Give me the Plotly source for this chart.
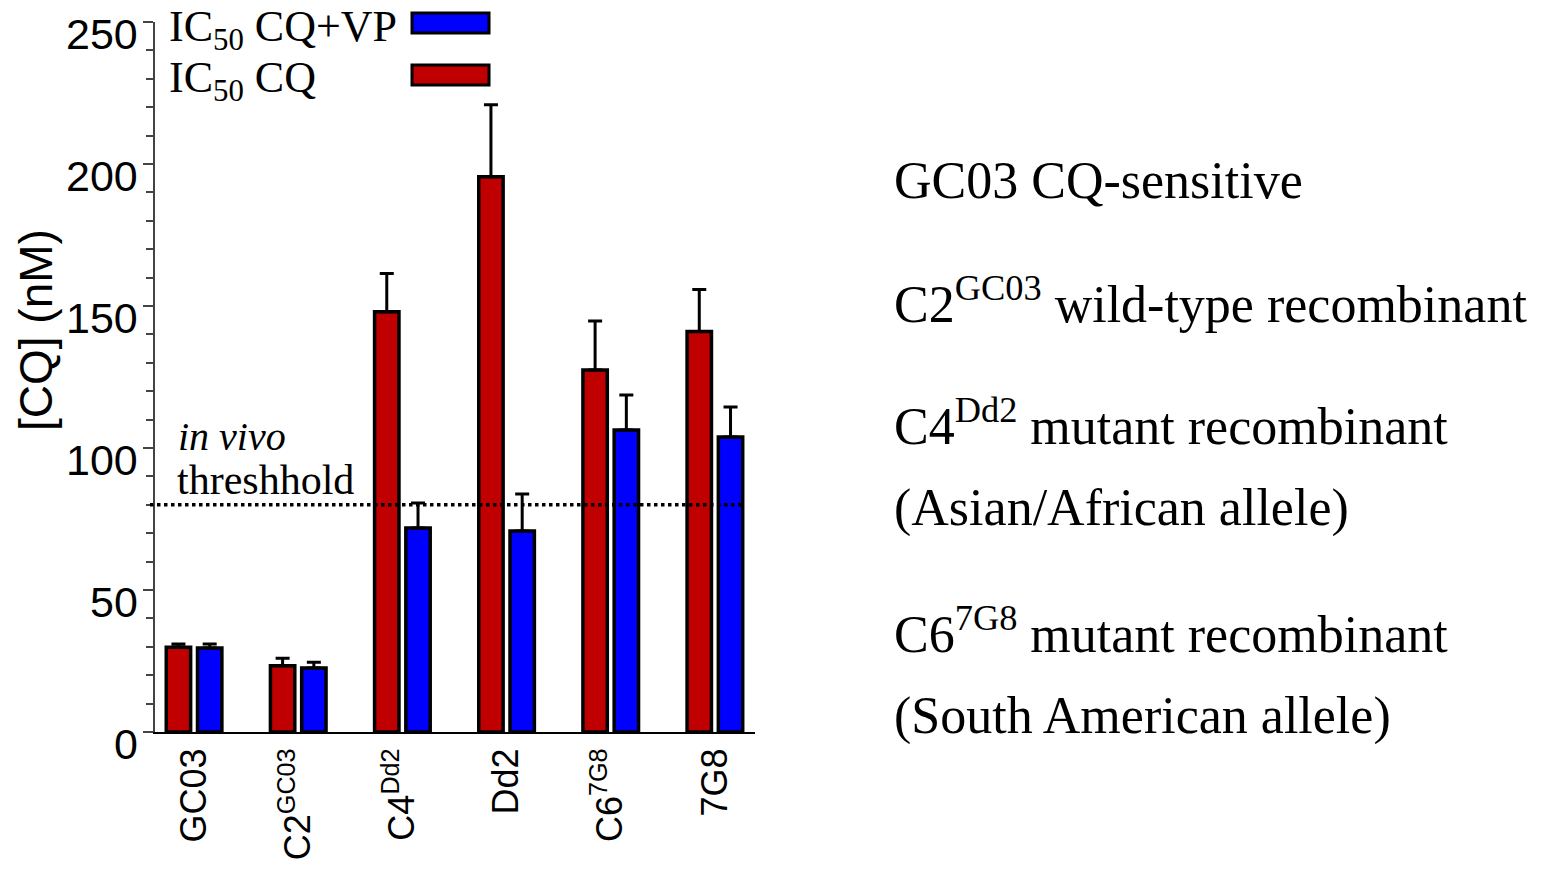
import plotly.graph_objects as go

# ---- data ----
categories = ["GC03", "C2GC03", "C4Dd2", "Dd2", "C67G8", "7G8"]
tick_labels = ["GC03", "C2<sup>GC03</sup>", "C4<sup>Dd2</sup>", "Dd2", "C6<sup>7G8</sup>", "7G8"]
ic50_cq = [29.8, 23.3, 148.0, 195.5, 127.5, 141.0]
ic50_cq_err = [1.2, 2.7, 13.4, 25.4, 17.2, 14.8]
ic50_cqvp = [29.6, 22.5, 71.8, 70.8, 106.3, 103.9]
ic50_cqvp_err = [1.4, 2.1, 8.8, 13.0, 12.4, 10.5]
threshold = 80
y_tick_values = [0, 50, 100, 150, 200, 250]
legend_names = ["IC<sub>50</sub> CQ+VP", "IC<sub>50</sub> CQ"]
side_text = [
    "GC03 CQ-sensitive",
    "C2<sup>GC03</sup> wild-type recombinant",
    "C4<sup>Dd2</sup> mutant recombinant",
    "(Asian/African allele)",
    "C6<sup>7G8</sup> mutant recombinant",
    "(South American allele)",
]

RED = "#C00000"
BLUE = "#0000FF"
SANS = "Liberation Sans, Arial, sans-serif"
SERIF = "Liberation Serif, Times New Roman, serif"

# page body margin offsets the figure by 8px
OFF = 8
W, H = 1541 - OFF, 876 - OFF
SX0, SX1, SY0, SY1 = 155, 755, 22, 732          # plot area in screen px
L, R, T, B = SX0 - OFF, (W + OFF) - SX1, SY0 - OFF, (H + OFF) - SY1
PW, PH = SX1 - SX0, SY1 - SY0


def px_x(px):
    return (px - SX0) / PW


def px_y(py):
    return (SY1 - py) / PH


fig = go.Figure()
fig.add_trace(go.Bar(
    x=categories, y=ic50_cq, name="IC50 CQ",
    marker=dict(color=RED, line=dict(color="black", width=3.5)),
    error_y=dict(type="data", symmetric=False, array=ic50_cq_err,
                 arrayminus=[0] * len(ic50_cq), color="black", thickness=3, width=7),
    showlegend=False,
))
fig.add_trace(go.Bar(
    x=categories, y=ic50_cqvp, name="IC50 CQ+VP",
    marker=dict(color=BLUE, line=dict(color="black", width=3.5)),
    error_y=dict(type="data", symmetric=False, array=ic50_cqvp_err,
                 arrayminus=[0] * len(ic50_cqvp), color="black", thickness=3, width=7),
    showlegend=False,
))

annotations = []
# y tick labels
for v in y_tick_values:
    annotations.append(dict(
        x=0, xref="paper", y=v, yref="y", text=str(v), showarrow=False,
        xanchor="right", yanchor="middle", xshift=-15, yshift=-12,
        font=dict(family=SANS, size=43, color="black"),
    ))
# y title
annotations.append(dict(
    x=px_x(36), xref="paper", y=px_y(330), yref="paper", text="[CQ] (nM)",
    textangle=-90, showarrow=False, xanchor="center", yanchor="middle",
    font=dict(family=SANS, size=46, color="black"),
))
# legend texts
for name, py in zip(legend_names, [30, 80]):
    annotations.append(dict(
        x=px_x(167), xref="paper", y=px_y(py), yref="paper", text=name,
        showarrow=False, xanchor="left", yanchor="middle",
        font=dict(family=SERIF, size=44, color="black"),
    ))
# threshold text
annotations.append(dict(
    x=px_x(176), xref="paper", y=px_y(436), yref="paper", text="<i>in vivo</i>",
    showarrow=False, xanchor="left", yanchor="middle",
    font=dict(family=SERIF, size=40, color="black"),
))
annotations.append(dict(
    x=px_x(175), xref="paper", y=px_y(480), yref="paper", text="threshhold",
    showarrow=False, xanchor="left", yanchor="middle",
    font=dict(family=SERIF, size=42, color="black"),
))
# right-side descriptive text
for txt, py in zip(side_text, [180, 300, 422, 508, 630, 716]):
    annotations.append(dict(
        x=px_x(892), xref="paper", y=px_y(py), yref="paper", text=txt,
        showarrow=False, xanchor="left", yanchor="middle",
        font=dict(family=SERIF, size=52, color="black"),
    ))

shapes = [
    # threshold line
    dict(type="line", xref="paper", x0=px_x(150), x1=px_x(742), yref="y",
         y0=threshold, y1=threshold, line=dict(color="black", width=3.5, dash="dot")),
    # legend keys
    dict(type="rect", xref="paper", yref="paper", x0=px_x(412), x1=px_x(489),
         y0=px_y(33), y1=px_y(13), fillcolor=BLUE, line=dict(color="black", width=3)),
    dict(type="rect", xref="paper", yref="paper", x0=px_x(412), x1=px_x(489),
         y0=px_y(85), y1=px_y(65), fillcolor=RED, line=dict(color="black", width=3)),
]

fig.update_layout(
    width=W, height=H,
    margin=dict(l=L, r=R, t=T, b=B, pad=0),
    paper_bgcolor="white", plot_bgcolor="white",
    barmode="group", bargap=0.4, bargroupgap=0.22,
    annotations=annotations, shapes=shapes,
    xaxis=dict(
        type="category", range=[-0.375, 5.385],
        tickvals=categories, ticktext=tick_labels, tickangle=-90,
        tickfont=dict(family=SANS, size=36, color="black"),
        showline=True, linecolor="black", linewidth=2,
        ticks="", showgrid=False, zeroline=False,
    ),
    yaxis=dict(
        range=[0, 250], tickvals=y_tick_values, showticklabels=False,
        ticks="outside", ticklen=10, tickwidth=1.5, tickcolor="#444",
        minor=dict(dtick=10, ticks="outside", ticklen=7, tickwidth=1.5, tickcolor="#444"),
        showline=True, linecolor="#444", linewidth=1.5,
        showgrid=False, zeroline=False,
    ),
)

fig.write_html("out.html")
